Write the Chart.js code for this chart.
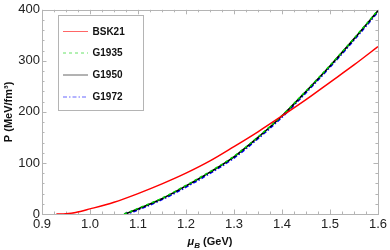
<!DOCTYPE html>
<html>
<head>
<meta charset="utf-8">
<script src="https://cdn.jsdelivr.net/npm/chart.js@4.4.1/dist/chart.umd.min.js"></script>
<style>
  html, body { margin: 0; padding: 0; background: #fff; }
  #wrap { width: 390px; height: 250px; }
</style>
</head>
<body>
<div id="wrap"><canvas id="myChart" width="390" height="250"></canvas></div>
<script>
// values
var muBSK21 = [0.93, 0.94, 0.95, 0.97, 1.0, 1.05, 1.1, 1.15, 1.2, 1.25, 1.3, 1.35, 1.4, 1.45, 1.5, 1.55, 1.6];
var pBSK21  = [0, 0, 0.5, 3, 10, 23, 40, 59, 80, 104, 132, 161, 192, 224, 258, 292, 328];

var muG    = [1.071, 1.08, 1.1, 1.15, 1.2, 1.25, 1.3, 1.35, 1.4, 1.45, 1.5, 1.55, 1.6];
var pG1935 = [0, 3, 11, 31, 56, 83, 113, 151, 193, 241, 291, 344, 399];
var pG1950 = [0, 2.5, 10, 30, 55, 82, 112, 150, 192, 240, 290, 343, 398];
var pG1972 = [0, 1.5, 8.5, 28.5, 53, 80, 110, 148, 190, 238, 288, 341, 396];

var xTicks = [0.9, 1.0, 1.1, 1.2, 1.3, 1.4, 1.5, 1.6];
var yTicks = [0, 100, 200, 300, 400];

var legendNames = ["BSK21", "G1935", "G1950", "G1972"];

function toPoints(xs, ys){
    var pts = [];
    for (var i = 0; i < xs.length; i++) {
        pts.push({x: xs[i], y: ys[i]});
    }
    return pts;
}

var frameColor = '#b4b4b4';

// frame, inward major/minor ticks, axis titles and the boxed legend
var framePlugin = {
    id: 'frame',
    beforeDatasetsDraw: function(chart){
        var ctx = chart.ctx;
        var a = chart.chartArea;
        var xs = chart.scales.x, ys = chart.scales.y;
        ctx.save();
        ctx.strokeStyle = frameColor;
        ctx.lineWidth = 1;
        ctx.strokeRect(Math.round(a.left) + 0.5, Math.round(a.top) + 0.5,
                       Math.round(a.right) - Math.round(a.left), Math.round(a.bottom) - Math.round(a.top));
        ctx.beginPath();
        // x ticks every 0.025, major every 0.1
        for (var i = 0; i <= 28; i++) {
            var px = Math.round(xs.getPixelForValue(0.9 + i * 0.025)) + 0.5;
            var len = (i % 4 == 0) ? 4.5 : 2.5;
            ctx.moveTo(px, a.bottom); ctx.lineTo(px, a.bottom - len);
            ctx.moveTo(px, a.top); ctx.lineTo(px, a.top + len);
        }
        // y ticks every 20, major every 100
        for (var j = 0; j <= 20; j++) {
            var py = Math.round(ys.getPixelForValue(j * 20)) + 0.5;
            var len2 = (j % 5 == 0) ? 4.5 : 2.5;
            ctx.moveTo(a.left, py); ctx.lineTo(a.left + len2, py);
            ctx.moveTo(a.right, py); ctx.lineTo(a.right - len2, py);
        }
        ctx.stroke();
        ctx.restore();
    },
    afterDraw: function(chart){
        var ctx = chart.ctx;
        var a = chart.chartArea;
        ctx.save();
        ctx.fillStyle = '#111';

        // x title: mu_B (GeV)
        var big = 'bold 11px "Liberation Sans", Arial, sans-serif';
        var bigI = 'italic bold 11px "Liberation Sans", Arial, sans-serif';
        var subI = 'italic bold 8px "Liberation Sans", Arial, sans-serif';
        ctx.font = bigI; var w1 = ctx.measureText('\u03bc').width;
        ctx.font = subI; var w2 = ctx.measureText('B').width;
        ctx.font = big;  var w3 = ctx.measureText(' (GeV)').width;
        var sx = (a.left + a.right) / 2 - (w1 + w2 + w3) / 2;
        var by = 245;
        ctx.textBaseline = 'alphabetic';
        ctx.textAlign = 'left';
        ctx.font = bigI; ctx.fillText('\u03bc', sx, by);
        ctx.font = subI; ctx.fillText('B', sx + w1, by + 2.5);
        ctx.font = big;  ctx.fillText(' (GeV)', sx + w1 + w2, by);

        // y title
        ctx.save();
        ctx.translate(12, (a.top + a.bottom) / 2);
        ctx.rotate(-Math.PI / 2);
        ctx.textAlign = 'center';
        ctx.font = big;
        ctx.fillText('P (MeV/fm\u00b3)', 0, 0);
        ctx.restore();

        // legend box
        var lx = 58.5, ly = 15.5, lw = 85, lh = 95;
        ctx.fillStyle = '#fff';
        ctx.fillRect(lx, ly, lw, lh);
        ctx.strokeStyle = frameColor;
        ctx.lineWidth = 1;
        ctx.strokeRect(lx, ly, lw, lh);
        var dsets = chart.data.datasets;
        var rows = [31.5, 53, 75, 97];
        for (var k = 0; k < legendNames.length; k++) {
            var d = null;
            for (var m = 0; m < dsets.length; m++) { if (dsets[m].label == legendNames[k]) d = dsets[m]; }
            ctx.save();
            ctx.globalAlpha = 0.6;
            ctx.strokeStyle = d.borderColor;
            ctx.lineWidth = 1;
            ctx.setLineDash(d.borderDash || []);
            ctx.beginPath();
            ctx.moveTo(63, rows[k]); ctx.lineTo(88, rows[k]);
            ctx.stroke();
            ctx.restore();
            ctx.fillStyle = '#111';
            ctx.font = 'bold 10px "Liberation Sans", Arial, sans-serif';
            ctx.textBaseline = 'middle';
            ctx.fillText(legendNames[k], 92.5, rows[k] + 0.5);
        }
        ctx.restore();
    }
};

var ctx = document.getElementById('myChart').getContext('2d');
var chart = new Chart(ctx, {
    type: 'line',
    data: {
        datasets: [{
            label: 'BSK21',
            data: toPoints(muBSK21, pBSK21),
            borderColor: '#ff0000',
            borderWidth: 1.5
        }, {
            label: 'G1935',
            data: toPoints(muG, pG1935),
            borderColor: '#00d000',
            borderWidth: 1.5,
            borderDash: [3, 3]
        }, {
            label: 'G1950',
            data: toPoints(muG, pG1950),
            borderColor: '#000000',
            borderWidth: 1.6
        }, {
            label: 'G1972',
            data: toPoints(muG, pG1972),
            borderColor: '#0000ff',
            borderWidth: 2,
            borderDash: [4, 2, 1.5, 2]
        }]
    },
    options: {
        responsive: false,
        animation: false,
        devicePixelRatio: 1,
        layout: { padding: { top: 6, right: 9, left: 0, bottom: 0 } },
        elements: {
            point: { radius: 0 },
            line: { cubicInterpolationMode: 'monotone', fill: false }
        },
        plugins: {
            legend: { display: false },
            tooltip: { enabled: false }
        },
        scales: {
            x: {
                type: 'linear',
                min: 0.9,
                max: 1.6,
                afterBuildTicks: function(s){ s.ticks = xTicks.map(function(v){ return {value: v}; }); },
                afterFit: function(s){ s.height = 36; },
                grid: { display: false, drawTicks: false },
                border: { display: false },
                ticks: {
                    padding: 3,
                    color: '#222',
                    font: { family: '"Liberation Sans", Arial, sans-serif', size: 13 },
                    callback: function(v){ return v.toFixed(1); }
                }
            },
            y: {
                type: 'linear',
                min: 0,
                max: 400,
                afterBuildTicks: function(s){ s.ticks = yTicks.map(function(v){ return {value: v}; }); },
                afterFit: function(s){ s.width = 42; },
                grid: { display: false, drawTicks: false },
                border: { display: false },
                ticks: {
                    padding: 2,
                    color: '#222',
                    font: { family: '"Liberation Sans", Arial, sans-serif', size: 13 }
                }
            }
        }
    },
    plugins: [framePlugin]
});
</script>
</body>
</html>
